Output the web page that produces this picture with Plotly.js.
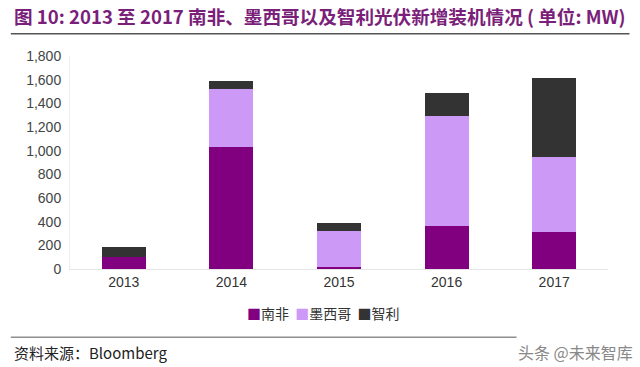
<!DOCTYPE html>
<html><head><meta charset="utf-8">
<script src="https://cdn.plot.ly/plotly-3.0.1.min.js"></script>
<style>body{margin:0;background:#fff}#c{width:640px;height:367px}</style>
</head><body><div id="c"></div>
<script>
const years = ['2013','2014','2015','2016','2017'];
const southAfrica = [100, 1030, 20, 365, 315];
const mexico = [5, 490, 300, 925, 630];
const chile = [78, 65, 65, 200, 670];
const seriesNames = ['南非','墨西哥','智利'];
const tickVals = [0,200,400,600,800,1000,1200,1400,1600,1800];
const tickText = ['0','200','400','600','800','1,000','1,200','1,400','1,600','1,800'];

const colors = ['#800080','#cc99f7','#333333'];
const series = [southAfrica, mexico, chile];
const traces = series.map((v,i)=>({
  type:'bar', x:years, y:v, name:seriesNames[i],
  marker:{color:colors[i], line:{width:0}}, width:0.41
}));
const font = "Liberation Sans, Arial, sans-serif";
const cjk = "Noto Sans CJK SC, sans-serif";
const legendText = seriesNames.map((n,i)=>
  `<span style="color:${colors[i]}">■</span>${n}`).join('  ');
const layout = {
  width:640, height:367,
  margin:{l:70, r:32, t:56, b:98},
  barmode:'stack', bargap:0.59,
  paper_bgcolor:'#fff', plot_bgcolor:'#fff',
  font:{family:font, size:13, color:'#333'},
  xaxis:{showgrid:false, showline:true, linecolor:'#e6e6e6', linewidth:1, ticks:'',
         tickfont:{size:14, color:'#333'}, zeroline:false},
  yaxis:{range:[0,1800], tickvals:tickVals, ticktext:tickText, showgrid:false,
         showline:true, linecolor:'#eeeeee', ticks:'', zeroline:false,
         tickfont:{size:14, color:'#444'}, ticklabelstandoff:5},
  showlegend:false,
  annotations:[
    {xref:'paper', yref:'paper', x:-0.108, y:1.19, xanchor:'left', yanchor:'middle', showarrow:false,
     text:'<b>图 10: 2013 至 2017 南非、墨西哥以及智利光伏新增装机情况 ( 单位: MW)</b>',
     font:{family:cjk, size:18.6, color:'#7a1f7a'}},
    {xref:'paper', yref:'paper', x:0.472, y:-0.207, xanchor:'center', yanchor:'middle', showarrow:false,
     text:legendText, font:{family:cjk, size:14, color:'#333'}},
    {xref:'paper', yref:'paper', x:-0.108, y:-0.39, xanchor:'left', yanchor:'middle', showarrow:false,
     text:'资料来源：Bloomberg', font:{family:cjk, size:15, color:'#222'}},
    {xref:'paper', yref:'paper', x:1.05, y:-0.39, xanchor:'right', yanchor:'middle', showarrow:false,
     text:'头条 @未来智库', font:{family:cjk, size:16, color:'#888'}}
  ],
  shapes:[
    {type:'line', xref:'paper', yref:'paper', x0:-0.11, x1:1.04, y0:1.105, y1:1.105, line:{color:'#555', width:1.5}},
    {type:'line', xref:'paper', yref:'paper', x0:-0.11, x1:0.83, y0:-0.32, y1:-0.32, line:{color:'#555', width:1}}
  ]
};
Plotly.newPlot('c', traces, layout, {displayModeBar:false, staticPlot:true});
</script></body></html>
